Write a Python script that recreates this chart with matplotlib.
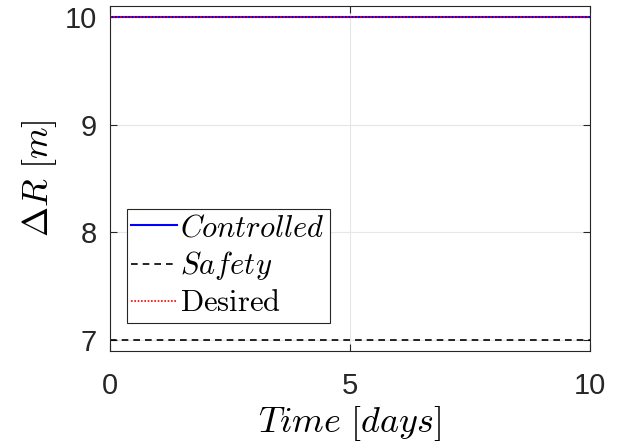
import numpy as np
import matplotlib
matplotlib.use("Agg")
import matplotlib.pyplot as plt

plt.rcParams["font.family"] = ["Liberation Sans", "DejaVu Sans"]
plt.rcParams["mathtext.fontset"] = "cm"

# data
time_days = [0, 2, 4, 6, 8, 10]
controlled = [10.0, 10.0, 10.0, 10.0, 10.0, 10.0]
desired = [10.0, 10.0, 10.0, 10.0, 10.0, 10.0]
safety = [7.0, 7.0, 7.0, 7.0, 7.0, 7.0]

fig = plt.figure(figsize=(6.19, 4.43), dpi=100)
ax = fig.add_axes([0.177, 0.208, 0.776, 0.778])

ax.plot(time_days, controlled, color="#0000ff", lw=1.5, label=r"$Controlled$")
ax.plot(time_days, safety, color="black", ls=(0, (4, 3)), lw=1.2, label=r"$Safety$")
ax.plot(time_days, desired, color="red", ls=(0, (1, 1)), lw=1.2, label=r"$\mathrm{Desired}$")

ax.set_xlim(0, 10)
ax.set_ylim(6.9, 10.1)
ax.set_xticks([0, 5, 10])
ax.set_yticks([7, 8, 9, 10])
ax.tick_params(axis="both", direction="in", labelsize=21, length=5, width=0.8, top=True, right=True,
               colors="#262626")
ax.tick_params(axis="x", pad=15)
ax.tick_params(axis="y", pad=9)
for s in ax.spines.values():
    s.set_color("#262626")
    s.set_linewidth(0.8)
ax.grid(True, color="#e6e6e6", lw=0.8)
ax.set_axisbelow(True)

ax.set_xlabel(r"$Time\ [days]$", fontsize=26, labelpad=3)
ax.set_ylabel(r"$\Delta R\ [m]$", fontsize=26, labelpad=4)

leg = ax.legend(loc="lower left", bbox_to_anchor=(0.036, 0.081), fontsize=22,
                handlelength=1.5, handletextpad=0.1, borderpad=0.15, labelspacing=0.2,
                borderaxespad=0, fancybox=False, framealpha=1, edgecolor="#262626")
leg.get_frame().set_linewidth(0.8)

fig.savefig("out.png", dpi=100)
